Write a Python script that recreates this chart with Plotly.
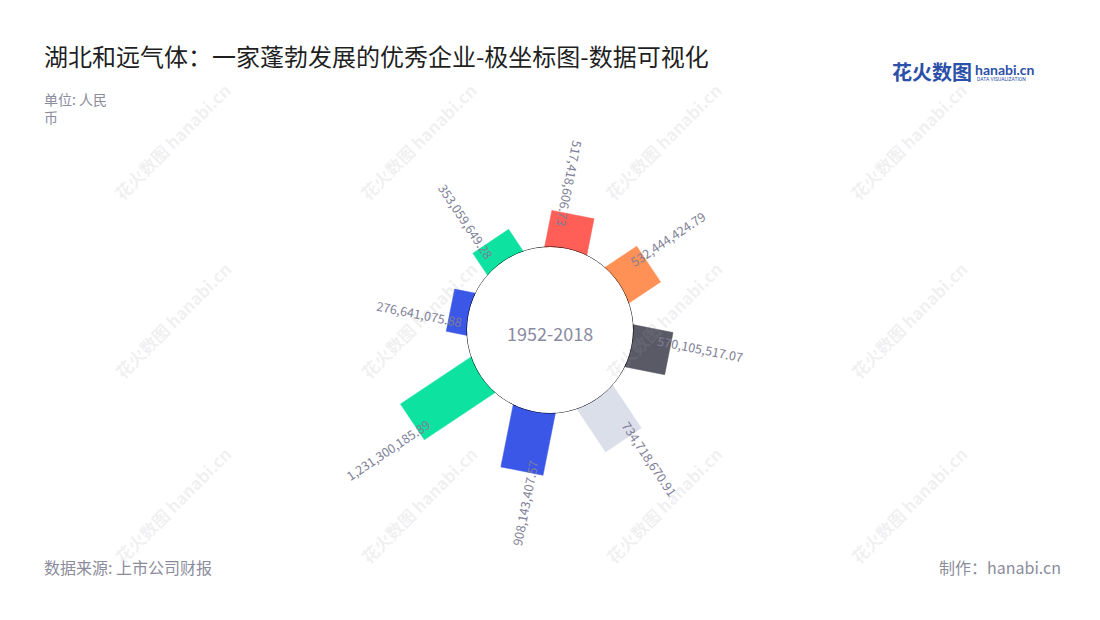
import math
import plotly.graph_objects as go

# ---------------- data ----------------
values = [517418606.73, 532444424.79, 570105517.07, 734718670.91,
          908143407.57, 1231300185.89, 276641075.88, 353059649.28]
colors = ["#FF5F57", "#FF9157", "#5A5A66", "#DADFEA",
          "#3A57E8", "#0DE2A1", "#3A57E8", "#0DE2A1"]
period_label = "1952-2018"
title_text = "湖北和远气体：一家蓬勃发展的优秀企业-极坐标图-数据可视化"
unit_text = "单位: 人民<br>币"
source_text = "数据来源: 上市公司财报"
credit_text = "制作：hanabi.cn"

# ---------------- geometry / style ----------------
W, H = 1100, 620
CX, CY = 550, 330          # centre of the polar subplot (px)
R_OUT = 200                # polar radius (px)
R_HOLE = 83                # hole radius (px)
RMAX = 1.746e9             # radial axis max
BAR_W = 43                 # bar thickness (px)
START = 11.25              # angle of first bar (deg clockwise from north)
STEP = 360.0 / len(values)
FONT = "Noto Sans CJK SC"
LABEL_COLOR = "#7E7E96"
LABEL_SIZE = 12.5

px_per_val = (R_OUT - R_HOLE) / RMAX


def to_r(d):
    """pixel distance from centre -> radial-axis value"""
    return (d - R_HOLE) / px_per_val


def px_to_paper(x, y):
    return x / W, 1 - y / H


def norm(a):
    return (a + 180) % 360 - 180


def text_len(s, fs):
    w = 0
    for ch in s:
        w += (0.555 if ch.isdigit() else 0.27) * fs
    return w


fig = go.Figure()

annotations = []
half = BAR_W / 2
for i, (v, c) in enumerate(zip(values, colors)):
    th = START + i * STEP
    L = R_HOLE + v * px_per_val
    d_out = math.hypot(L, half)
    dth_out = math.degrees(math.atan2(half, L))
    dth_in = math.degrees(math.asin(half / R_HOLE))
    r_o = to_r(d_out)
    rr = [0, r_o, r_o, 0, 0]
    tt = [th - dth_in, th - dth_out, th + dth_out, th + dth_in, th - dth_in]
    fig.add_trace(go.Scatterpolar(
        r=rr, theta=tt, mode="lines", fill="toself",
        fillcolor=c, line=dict(color=c, width=0.5),
        hoverinfo="skip", showlegend=False, cliponaxis=True))

    # label
    label = f"{v:,.2f}"
    a_out = norm(th - 90)
    outward = abs(a_out) < 70
    tang = a_out if outward else norm(a_out + 180)
    off = 11 if outward else 9
    tl = text_len(label, LABEL_SIZE)
    dc = L - 13 + tl / 2
    rad = math.radians(th)
    x = CX + dc * math.sin(rad) - off * math.cos(rad)
    y = CY - dc * math.cos(rad) - off * math.sin(rad)
    px, py = px_to_paper(x, y)
    annotations.append(dict(
        x=px, y=py, xref="paper", yref="paper", text=label,
        textangle=tang, showarrow=False, xanchor="center", yanchor="middle",
        font=dict(size=LABEL_SIZE, color=LABEL_COLOR, family=FONT)))

# hole outline
n = 361
fig.add_trace(go.Scatterpolar(
    r=[0] * n, theta=[k for k in range(n)], mode="lines",
    line=dict(color="#000000", width=1), hoverinfo="skip",
    showlegend=False, cliponaxis=False))

# centre text
cx_p, cy_p = px_to_paper(CX, CY + 3)
annotations.append(dict(x=cx_p, y=cy_p, xref="paper", yref="paper",
                        text=period_label, showarrow=False,
                        xanchor="center", yanchor="middle",
                        font=dict(size=18, color="#8A8AA2", family=FONT)))

# title etc.
annotations.append(dict(x=42 / W, y=1 - 55 / H, xref="paper", yref="paper",
                        text=title_text, showarrow=False, xanchor="left",
                        yanchor="middle",
                        font=dict(size=24, color="#1F1F1F", family=FONT)))
annotations.append(dict(x=42 / W, y=1 - 87 / H, xref="paper", yref="paper",
                        text=unit_text, showarrow=False, xanchor="left",
                        yanchor="top", align="left",
                        font=dict(size=14, color="#8C8C9C", family=FONT)))
annotations.append(dict(x=42 / W, y=1 - 567 / H, xref="paper", yref="paper",
                        text=source_text, showarrow=False, xanchor="left",
                        yanchor="middle",
                        font=dict(size=16, color="#8C8C9C", family=FONT)))
annotations.append(dict(x=1063 / W, y=1 - 567 / H, xref="paper", yref="paper",
                        text=credit_text, showarrow=False, xanchor="right",
                        yanchor="middle",
                        font=dict(size=16, color="#8C8C9C", family=FONT)))

# logo
annotations.append(dict(x=890 / W, y=1 - 72 / H, xref="paper", yref="paper",
                        text="<b>花火数图</b>", showarrow=False, xanchor="left",
                        yanchor="middle",
                        font=dict(size=20, color="#2B50A8", family=FONT)))
annotations.append(dict(x=973 / W, y=1 - 69 / H, xref="paper", yref="paper",
                        text="<b>hanabi.cn</b>", showarrow=False, xanchor="left",
                        yanchor="middle",
                        font=dict(size=14, color="#2B50A8", family="Lato")))
annotations.append(dict(x=975 / W, y=1 - 79 / H, xref="paper", yref="paper",
                        text="DATA VISUALIZATION", showarrow=False, xanchor="left",
                        yanchor="middle",
                        font=dict(size=5, color="#2B50A8", family="Roboto")))

# watermarks
for wy in [142, 320, 505]:
    for wx in [172, 418, 663, 908]:
        annotations.append(dict(x=wx / W, y=1 - wy / H, xref="paper", yref="paper",
                                text="<b>花火数图 hanabi.cn</b>", textangle=-45,
                                showarrow=False, xanchor="center", yanchor="middle",
                                font=dict(size=17, color="rgba(160,160,170,0.16)",
                                          family=FONT)))

fig.update_layout(
    width=W, height=H,
    margin=dict(l=0, r=0, t=0, b=0),
    paper_bgcolor="white", plot_bgcolor="white",
    showlegend=False,
    font=dict(family=FONT),
    polar=dict(
        domain=dict(x=[(CX - R_OUT) / W, (CX + R_OUT) / W],
                    y=[(H - CY - R_OUT) / H, (H - CY + R_OUT) / H]),
        hole=R_HOLE / R_OUT,
        bgcolor="rgba(0,0,0,0)",
        radialaxis=dict(range=[0, RMAX], visible=False),
        angularaxis=dict(direction="clockwise", rotation=90,
                         showline=False, showgrid=False,
                         showticklabels=False, ticks=""),
    ),
    annotations=annotations,
)

fig.write_html("out.html", config={"displayModeBar": False},
               post_script="document.body.style.margin='0px';")
